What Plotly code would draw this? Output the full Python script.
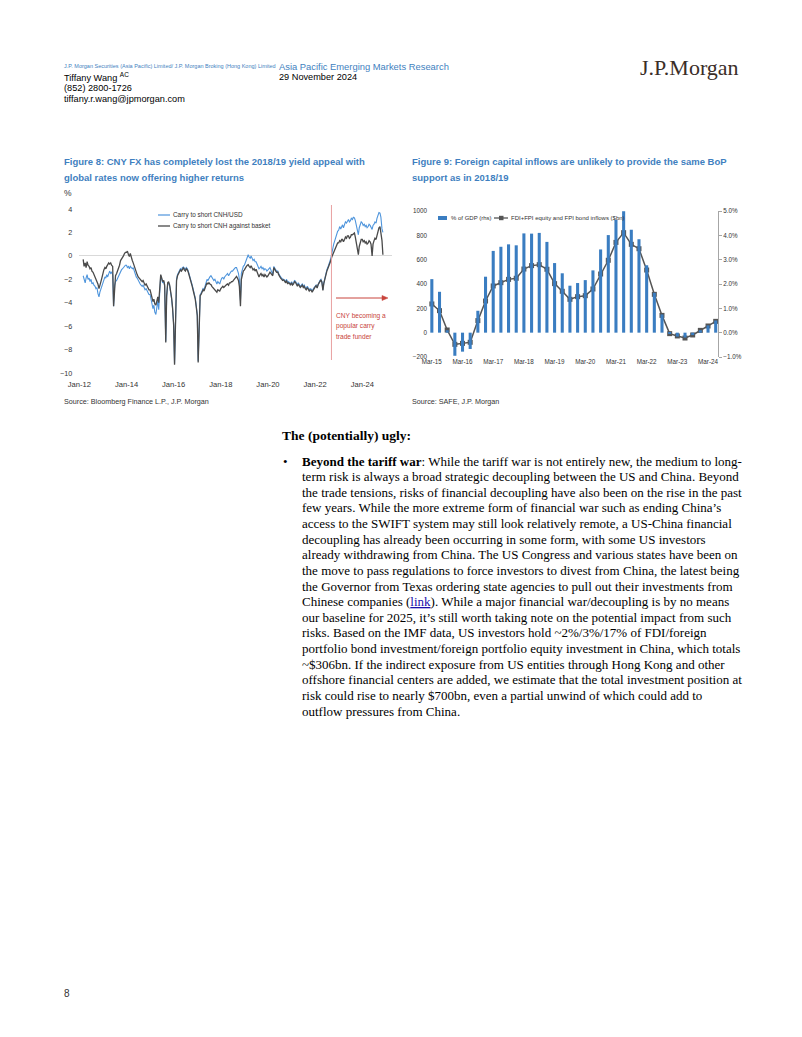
import pandas as pd
import plotly.graph_objects as go

# ---------------- Figure 8 data (semi-monthly, Mar-12 .. Nov-24) ----------------
b2012 = [-1.7,-2.1,-2.3,-1.9,-1.6,-2.0,-1.9,-2.2,-2.0,-2.4,-2.3,-2.5,-2.6,-2.8,-2.7,-3.2,-3.5,-3.1,-2.8,-2.5]
g2012 = [-0.3,-0.9,-0.6,-1.0,-0.5,-0.8,-0.9,-1.1,-1.0,-1.3,-1.4,-1.6,-1.8,-1.9,-2.1,-2.4,-2.8,-2.4,-2.2,-1.9]
b2013 = [-2.2,-2.0,-1.8,-1.9,-1.6,-1.8,-1.4,-1.3,-1.5,-1.4,-1.6,-4.3,-2.5,-2.2,-2.1,-1.9,-1.7,-1.5,-1.3,-1.2,-1.1,-1.0,-0.9,-0.8]
g2013 = [-1.4,-1.2,-1.0,-1.1,-0.9,-0.8,-0.6,-0.7,-0.6,-0.8,-0.9,-4.3,-2.2,-1.7,-1.5,-1.3,-1.0,-0.8,-0.4,-0.3,-0.1,0.0,0.2,0.3]
b2014 = [-0.8,-1.0,-0.9,-1.1,-0.9,-1.0,-1.1,-1.0,-1.3,-1.5,-1.8,-1.9,-2.1,-2.2,-2.4,-2.5,-2.6,-2.5,-2.7,-2.9,-2.8,-3.0,-3.1,-3.3]
g2014 = [0.3,0.4,0.1,-0.05,0.2,-0.2,-0.4,-0.6,-0.9,-1.2,-1.4,-1.6,-1.8,-1.9,-2.0,-2.1,-2.2,-2.1,-2.3,-2.5,-2.4,-2.6,-2.8,-2.9]
b2015 = [-3.3,-3.6,-4.0,-4.5,-4.2,-4.8,-5.0,-4.3,-3.8,-4.6,-2.5,-1.7,-2.0,-2.3,-2.2,-2.6,-7.3,-3.5,-2.4,-2.3,-2.6,-3.0,-3.7,-4.5]
g2015 = [-2.9,-3.2,-3.6,-3.9,-3.7,-4.1,-4.2,-3.8,-3.5,-4.0,-2.3,-1.6,-1.9,-2.2,-2.1,-2.5,-7.4,-3.4,-2.3,-2.2,-2.5,-2.9,-3.6,-4.4]
b2016 = [-5.8,-9.2,-3.5,-2.0,-1.6,-1.4,-1.3,-1.1,-1.2,-1.0,-0.95,-1.1,-1.2,-1.0,-1.1,-1.3,-1.6,-2.0,-2.2,-2.5,-2.9,-3.2,-3.6,-4.2]
g2016 = [-5.9,-9.3,-3.6,-2.1,-1.7,-1.5,-1.4,-1.2,-1.3,-1.1,-1.0,-1.2,-1.3,-1.1,-1.2,-1.4,-1.7,-2.1,-2.3,-2.6,-3.0,-3.3,-3.7,-4.3]
b2017 = [-5.0,-9.0,-4.0,-3.3,-3.2,-3.0,-2.8,-2.9,-2.6,-2.3,-2.0,-2.1,-1.9,-1.8,-1.7,-1.8,-1.9,-2.1,-2.0,-2.2,-2.4,-2.2,-2.3,-2.4]
g2017 = [-5.1,-9.1,-4.1,-3.4,-3.3,-3.1,-2.9,-3.0,-2.7,-2.5,-2.3,-2.4,-2.3,-2.4,-2.45,-2.6,-2.7,-2.8,-2.9,-3.0,-3.1,-2.9,-3.0,-3.0]
b2018 = [-2.1,-1.9,-1.85,-2.0,-1.8,-1.7,-1.6,-1.5,-1.7,-1.5,-1.4,-1.3,-1.3,-1.2,-1.1,-1.0,-1.0,-1.2,-1.5,-2.0,-3.8,-1.5,-1.0,-0.9]
g2018 = [-2.8,-2.7,-2.6,-2.7,-2.6,-2.5,-2.45,-2.4,-2.5,-2.3,-2.3,-2.2,-2.2,-2.1,-2.0,-1.9,-1.75,-1.9,-2.1,-2.6,-4.3,-2.0,-1.5,-1.3]
b2019 = [-0.8,-0.6,-0.3,-0.1,0.1,-0.1,-0.2,0.0,-0.2,-0.4,-0.3,-0.5,-0.5,-0.7,-0.9,-1.1,-1.0,-0.9,-1.1,-1.0,-1.2,-1.1,-1.15,-1.3]
g2019 = [-1.2,-1.0,-0.9,-0.8,-0.75,-0.9,-1.0,-0.85,-1.0,-1.2,-1.1,-1.3,-1.15,-1.4,-1.6,-1.8,-1.6,-1.5,-1.7,-1.6,-1.8,-1.6,-1.7,-1.8]
b2020 = [-1.2,-1.1,-1.0,-1.2,-1.4,-1.6,-0.9,-1.1,-1.2,-1.3,-1.3,-1.5,-1.7,-1.8,-1.9,-2.0,-2.0,-2.1,-2.2,-2.0,-2.3,-2.2,-2.3,-2.4]
g2020 = [-1.7,-1.5,-1.4,-1.5,-1.6,-1.7,-1.0,-1.2,-1.3,-1.4,-1.4,-1.6,-1.8,-1.9,-2.0,-2.1,-2.05,-2.2,-2.3,-2.1,-2.4,-2.3,-2.35,-2.5]
b2021 = [-2.2,-2.4,-2.3,-2.1,-2.15,-2.3,-2.5,-2.3,-2.45,-2.6,-2.5,-2.4,-2.6,-2.5,-2.7,-2.8,-2.6,-2.7,-2.9,-2.8,-2.85,-3.0,-2.8,-2.7]
g2021 = [-2.3,-2.5,-2.4,-2.2,-2.25,-2.4,-2.6,-2.4,-2.55,-2.7,-2.6,-2.5,-2.7,-2.6,-2.8,-2.9,-2.7,-2.8,-3.0,-2.9,-2.95,-3.1,-2.9,-2.8]
b2022 = [-2.6,-2.5,-2.7,-2.4,-2.3,-2.1,-2.0,-2.2,-2.9,-2.3,-1.8,-1.5,-1.2,-1.0,-0.8,-0.5,-0.2,0.3,0.7,1.0,1.3,1.6,1.8,2.1]
g2022 = [-2.65,-2.55,-2.75,-2.45,-2.35,-2.15,-2.05,-2.25,-2.95,-2.35,-1.85,-1.6,-1.3,-1.1,-0.9,-0.6,-0.4,-0.1,0.1,0.3,0.5,0.8,1.0,1.1]
b2023 = [2.2,2.5,2.3,2.6,2.65,2.4,2.7,2.9,2.8,3.0,3.1,2.9,3.0,3.2,3.1,3.3,3.25,3.0,2.6,2.3,1.8,2.4,2.7,2.9]
g2023 = [1.1,1.3,1.2,1.4,1.4,1.2,1.4,1.6,1.5,1.7,1.7,1.5,1.6,1.8,1.8,1.9,1.95,1.6,1.0,0.6,0.1,0.8,1.2,1.4]
b2024 = [2.8,2.6,2.7,2.5,2.6,2.4,2.5,2.7,2.6,2.4,2.25,2.6,2.7,2.9,2.8,3.2,3.5,3.7,3.65,3.3,2.3,2.0]
g2024 = [1.4,1.2,1.3,1.1,1.2,1.0,1.1,1.3,1.2,1.0,0.0,1.0,1.3,1.5,1.4,1.8,2.2,2.4,2.5,2.0,1.3,0.1]

carry_usd = (b2012 + b2013 + b2014 + b2015 + b2016 + b2017 + b2018 + b2019 + b2020
             + b2021 + b2022 + b2023 + b2024)
carry_basket = (g2012 + g2013 + g2014 + g2015 + g2016 + g2017 + g2018 + g2019 + g2020
                + g2021 + g2022 + g2023 + g2024)
fx_dates = pd.date_range("2012-03-01", "2024-11-15", freq="SMS")

# ---------------- Figure 9 data (quarterly, Mar-15 .. Jun-24) ----------------
quarters = [f"{m}-{y:02d}" for y in range(15, 25) for m in ("Mar", "Jun", "Sep", "Dec")][:38]
pct_gdp = [2.2,1.68,0.1,-0.95,-0.78,-0.67,0.9,2.3,3.36,3.53,3.63,3.59,4.08,4.07,4.1,3.73,
           2.86,2.44,1.93,2.04,2.16,2.56,3.42,4.01,4.63,4.99,4.23,3.84,2.77,1.64,0.75,
           -0.04,-0.16,-0.2,-0.1,0.1,0.3,0.5]
inflows = [236,181,22,-96,-88,-79,99,260,384,411,438,447,523,551,559,521,403,340,274,296,
           304,359,482,595,742,822,726,690,515,315,142,-8,-27,-44,-19,19,55,93]
f9_ticks = ["Mar-15","Mar-16","Mar-17","Mar-18","Mar-19","Mar-20","Mar-21","Mar-22","Mar-23","Mar-24"]

W, H = 802, 1037
OFF = 8  # page body margin of the html page
def px(x): return (x - OFF) / W
def py(y): return 1 - (y - OFF) / H

SANS = "Liberation Sans, Arial, sans-serif"
SERIF = "Liberation Serif, Times New Roman, serif"
BLUE_T = "#3f7fc0"
BLUE_L = "#4f95dc"
GREY_L = "#4a4a4a"
BAR = "#3a7dc1"
RED = "#c8443c"

fig = go.Figure()
fig.add_trace(go.Scatter(x=fx_dates[:len(carry_usd)], y=carry_usd, mode="lines",
                         line=dict(color=BLUE_L, width=1.1), xaxis="x", yaxis="y",
                         name="Carry to short CNH/USD"))
fig.add_trace(go.Scatter(x=fx_dates[:len(carry_basket)], y=carry_basket, mode="lines",
                         line=dict(color=GREY_L, width=1.3), xaxis="x", yaxis="y",
                         name="Carry to short CNH against basket"))
fig.add_trace(go.Bar(x=quarters, y=pct_gdp, marker=dict(color=BAR, line=dict(width=0)),
                     width=0.4, xaxis="x2", yaxis="y3", name="% of GDP (rhs)"))
fig.add_trace(go.Scatter(x=quarters, y=inflows, mode="lines+markers",
                         line=dict(color="#555555", width=1.5),
                         marker=dict(symbol="square", size=5, color="#555555"),
                         xaxis="x2", yaxis="y2", name="FDI+FPI equity and FPI bond inflows ($bn)"))

tick8x = dict(family=SANS, size=7.6, color="#333333")
tick8y = dict(family=SANS, size=7.2, color="#333333")
tick9 = dict(family=SANS, size=6.3, color="#333333")
fig.update_layout(
    width=W, height=H, margin=dict(l=0, r=0, t=0, b=0, autoexpand=False),
    paper_bgcolor="white", plot_bgcolor="white", showlegend=False, bargap=0.6,
    xaxis=dict(domain=[px(79.3), px(392)], range=["2012-01-01", "2025-04-05"],
               type="date", tick0="2012-01-01", dtick="M24", tickformat="%b-%y",
               showgrid=False, showline=False, ticks="", tickfont=tick8x, zeroline=False,
               automargin=False, ticklabelstandoff=5),
    yaxis=dict(domain=[py(373), py(209)], range=[-10, 4], dtick=2, showgrid=False,
               zeroline=True, zerolinecolor="#d9d9d9", zerolinewidth=1, showline=False,
               ticks="", tickfont=tick8y, automargin=False, ticklabelstandoff=6),
    xaxis2=dict(domain=[px(428), px(718)], type="category", range=[-0.5, 37.3],
                tickvals=f9_ticks, ticktext=f9_ticks, showgrid=False, showline=False,
                ticks="", tickfont=tick9, tickangle=0, automargin=False, anchor="y2"),
    yaxis2=dict(domain=[py(357), py(211)], range=[-200, 1000], dtick=200, showgrid=False,
                zeroline=False, showline=False, ticks="", tickfont=tick9, anchor="x2",
                automargin=False),
    yaxis3=dict(overlaying="y2", side="right", anchor="x2", range=[-1, 5], dtick=1,
                tickformat=".1f", ticksuffix="%", showgrid=False, zeroline=False,
                showline=True, linecolor="#a6a6a6", linewidth=1, ticks="outside",
                ticklen=3, tickcolor="#a6a6a6", tickfont=tick9, automargin=False),
)

anns = []
def ann(x, y, text, size, color="#000000", family=SANS, xanchor="left", yanchor="middle"):
    anns.append(dict(x=px(x), y=py(y), xref="paper", yref="paper", text=text,
                     showarrow=False, xanchor=xanchor, yanchor=yanchor,
                     font=dict(size=size, color=color, family=family)))

# Header
ann(62, 66, "J.P. Morgan Securities (Asia Pacific) Limited/ J.P. Morgan Broking (Hong Kong) Limited",
    5.5, BLUE_T, SANS)
ann(277, 66, "Asia Pacific Emerging Markets Research", 9.4, BLUE_T, SANS)
ann(62, 77, "Tiffany Wang <sup>AC</sup>", 9.2, "#000", SANS)
ann(277, 77, "29 November 2024", 9.2, "#000", SANS)
ann(62, 88, "(852) 2800-1726", 9.2, "#000", SANS)
ann(62, 99, "tiffany.r.wang@jpmorgan.com", 9.2, "#000", SANS)
ann(741, 68, "J.P.Morgan", 22, "#3a2e28", SERIF, xanchor="right")

# Figure titles
ann(62, 162, "<b>Figure 8: CNY FX has completely lost the 2018/19 yield appeal with</b>", 9.5, BLUE_T, SANS)
ann(62, 177, "<b>global rates now offering higher returns</b>", 9.5, BLUE_T, SANS)
ann(410, 162, "<b>Figure 9: Foreign capital inflows are unlikely to provide the same BoP</b>", 9.5, BLUE_T, SANS)
ann(410, 177, "<b>support as in 2018/19</b>", 9.5, BLUE_T, SANS)
ann(62, 193, "%", 8.5, "#333", SANS)

# Figure 8 legend
ann(171, 215, "Carry to short CNH/USD", 6.4, "#333", SANS)
ann(171, 226, "Carry to short CNH against basket", 6.4, "#333", SANS)
# Figure 8 red note
ann(334, 316, "CNY becoming a", 6.6, RED, SANS)
ann(334, 326, "popular carry", 6.6, RED, SANS)
ann(334, 336, "trade funder", 6.6, RED, SANS)

# Figure 9 legend
ann(449, 218, "% of GDP (rhs)", 6.0, "#333", SANS)
ann(509, 218, "FDI+FPI equity and FPI bond inflows ($bn)", 6.0, "#333", SANS)

# Sources
ann(62, 401, "Source: Bloomberg Finance L.P., J.P. Morgan", 7.2, "#333", SANS)
ann(410, 401, "Source: SAFE, J.P. Morgan", 7.2, "#333", SANS)

# Body text
ann(280, 435, "<b>The (potentially) ugly:</b>", 13.5, "#000", SERIF)
ann(281, 461, "•", 13, "#000", SERIF)
body = [
    "<b>Beyond the tariff war</b>: While the tariff war is not entirely new, the medium to long-",
    "term risk is always a broad strategic decoupling between the US and China. Beyond",
    "the trade tensions, risks of financial decoupling have also been on the rise in the past",
    "few years. While the more extreme form of financial war such as ending China\u2019s",
    "access to the SWIFT system may still look relatively remote, a US-China financial",
    "decoupling has already been occurring in some form, with some US investors",
    "already withdrawing from China. The US Congress and various states have been on",
    "the move to pass regulations to force investors to divest from China, the latest being",
    "the Governor from Texas ordering state agencies to pull out their investments from",
    "Chinese companies (<span style='color:#1a0dab'><u>link</u></span>). While a major financial war/decoupling is by no means",
    "our baseline for 2025, it\u2019s still worth taking note on the potential impact from such",
    "risks. Based on the IMF data, US investors hold ~2%/3%/17% of FDI/foreign",
    "portfolio bond investment/foreign portfolio equity investment in China, which totals",
    "~$306bn. If the indirect exposure from US entities through Hong Kong and other",
    "offshore financial centers are added, we estimate that the total investment position at",
    "risk could rise to nearly $700bn, even a partial unwind of which could add to",
    "outflow pressures from China.",
]
for i, line in enumerate(body):
    ann(300, 461 + i * 15.63, line, 13, "#000", SERIF)

ann(62, 993, "8", 10, "#333", SANS)

arrow_path = (f"M {px(382)},{py(295.5)} L {px(388)},{py(298)} L {px(382)},{py(300.5)} Z")
shapes = [
    # fig 8 legend swatches
    dict(type="line", xref="paper", yref="paper", x0=px(158), x1=px(170), y0=py(215), y1=py(215),
         line=dict(color=BLUE_L, width=1.2)),
    dict(type="line", xref="paper", yref="paper", x0=px(158), x1=px(170), y0=py(226), y1=py(226),
         line=dict(color=GREY_L, width=1.3)),
    # red vertical line (Sep-22)
    dict(type="line", xref="x", yref="paper", x0="2022-09-10", x1="2022-09-10",
         y0=py(360), y1=py(205), line=dict(color="#e8a0a0", width=1)),
    # red arrow
    dict(type="line", xref="paper", yref="paper", x0=px(336), x1=px(383), y0=py(298), y1=py(298),
         line=dict(color=RED, width=1)),
    dict(type="path", xref="paper", yref="paper", path=arrow_path, fillcolor=RED,
         line=dict(color=RED, width=0.5)),
    # fig 9 legend swatches
    dict(type="rect", xref="paper", yref="paper", x0=px(438), x1=px(447), y0=py(220), y1=py(216),
         fillcolor=BAR, line=dict(width=0)),
    dict(type="line", xref="paper", yref="paper", x0=px(494), x1=px(508), y0=py(218), y1=py(218),
         line=dict(color="#555555", width=1.3)),
    dict(type="rect", xref="paper", yref="paper", x0=px(499), x1=px(503.5), y0=py(220.2), y1=py(215.8),
         fillcolor="#555555", line=dict(width=0)),
]
fig.update_layout(annotations=anns, shapes=shapes)
fig.write_html("out.html")
